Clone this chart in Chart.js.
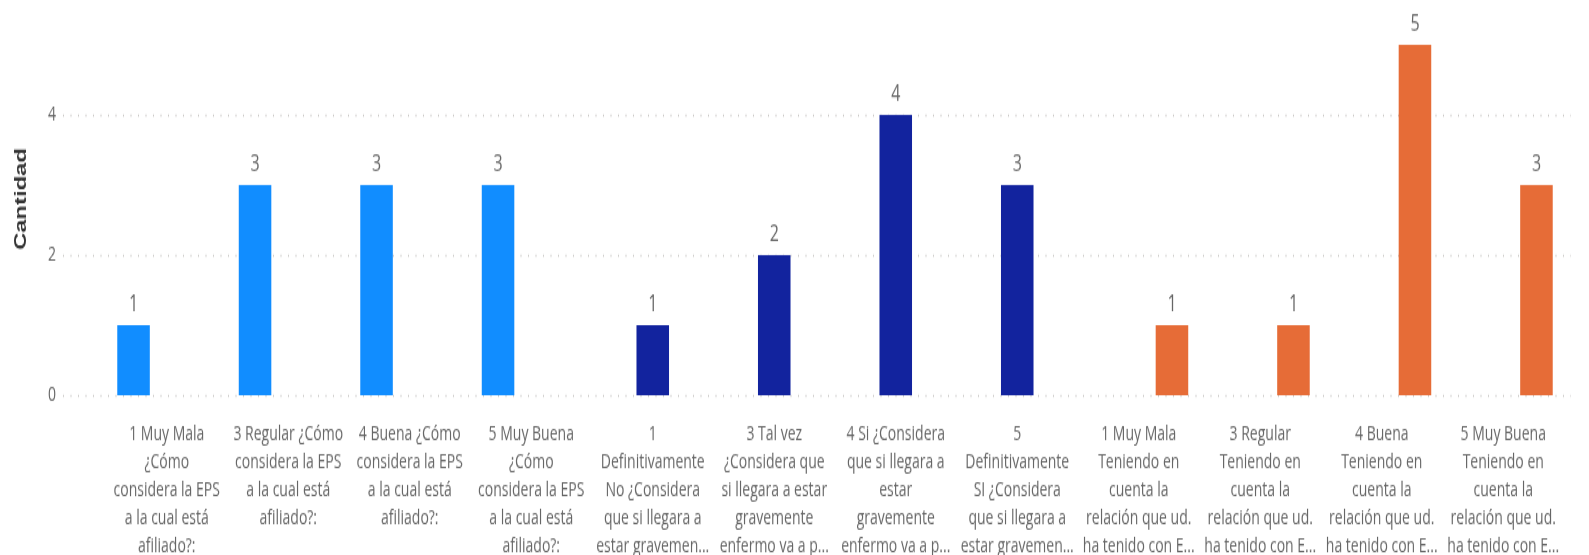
<!DOCTYPE html>
<html lang="es">
<head>
    <meta charset="UTF-8">
    <title>Cantidad por respuesta</title>
    <script src="https://cdn.jsdelivr.net/npm/chart.js"></script>
    <style>
        html, body {
            margin: 0;
            background: #ffffff;
        }

        /* Marco con la altura completa de la página */
        #marco {
            width: 1589px;
            height: 555px;
            overflow: hidden;
        }

        /* La captura original está estirada en vertical: se dibuja más bajo y se estira */
        #grafico {
            display: block;
            transform: scaleY(1.4015);
            transform-origin: 0 0;
        }
    </style>
</head>
<body>
    <div id="marco">
        <canvas id="grafico" width="1589" height="396"></canvas>
    </div>

    <script>
        // Etiquetas del eje X (tal como se ven, cortadas en líneas)
        const categorias = [
            ["1 Muy Mala", "¿Cómo", "considera la EPS", "a la cual está", "afiliado?:"],
            ["3 Regular ¿Cómo", "considera la EPS", "a la cual está", "afiliado?:"],
            ["4 Buena ¿Cómo", "considera la EPS", "a la cual está", "afiliado?:"],
            ["5 Muy Buena", "¿Cómo", "considera la EPS", "a la cual está", "afiliado?:"],
            ["1", "Definitivamente", "No ¿Considera", "que si llegara a", "estar gravemen..."],
            ["3 Tal vez", "¿Considera que", "si llegara a estar", "gravemente", "enfermo va a p..."],
            ["4 Si ¿Considera", "que si llegara a", "estar", "gravemente", "enfermo va a p..."],
            ["5", "Definitivamente", "SI ¿Considera", "que si llegara a", "estar gravemen..."],
            ["1 Muy Mala", "Teniendo en", "cuenta la", "relación que ud.", "ha tenido con E..."],
            ["3 Regular", "Teniendo en", "cuenta la", "relación que ud.", "ha tenido con E..."],
            ["4 Buena", "Teniendo en", "cuenta la", "relación que ud.", "ha tenido con E..."],
            ["5 Muy Buena", "Teniendo en", "cuenta la", "relación que ud.", "ha tenido con E..."]
        ];

        // Valores de cada pregunta (null = la pregunta no tiene esa categoría)
        const valoresEPS        = [1, 3, 3, 3, null, null, null, null, null, null, null, null];
        const valoresGravemente = [null, null, null, null, 1, 2, 4, 3, null, null, null, null];
        const valoresRelacion   = [null, null, null, null, null, null, null, null, 1, 1, 5, 3];

        // Marcas del eje Y
        const marcasY = [0, 2, 4];

        const colores = ["#118DFF", "#12239E", "#E66C37"];

        Chart.defaults.font.family = "'Open Sans', sans-serif";
        Chart.defaults.color = "#666666";

        // Líneas punteadas de la cuadrícula (más anchas que el área de barras, como en Power BI)
        const cuadricula = {
            id: "cuadricula",
            beforeDatasetsDraw(chart) {
                const ctx = chart.ctx;
                const ejeY = chart.scales.y;
                const area = chart.chartArea;
                ctx.save();
                ctx.strokeStyle = "#c8c6c4";
                ctx.lineWidth = 1.4;
                ctx.setLineDash([1, 6.5]);
                ejeY.ticks.forEach(t => {
                    const py = Math.round(ejeY.getPixelForValue(t.value)) + 0.5;
                    ctx.beginPath();
                    ctx.moveTo(area.left - 43, py);
                    ctx.lineTo(area.right + 7, py);
                    ctx.stroke();
                });
                ctx.restore();
            }
        };

        // Etiqueta con el valor encima de cada barra
        const etiquetasValor = {
            id: "etiquetasValor",
            afterDatasetsDraw(chart) {
                const ctx = chart.ctx;
                ctx.save();
                ctx.font = "16px 'Open Sans'";
                ctx.fillStyle = "#666666";
                ctx.textAlign = "center";
                ctx.textBaseline = "alphabetic";
                chart.data.datasets.forEach((ds, i) => {
                    chart.getDatasetMeta(i).data.forEach((barra, j) => {
                        if (ds.data[j] === null) return;
                        ctx.fillText(ds.data[j], barra.x, barra.y - 10);
                    });
                });
                ctx.restore();
            }
        };

        const serie = (nombre, datos, color) => ({
            label: nombre,
            data: datos,
            backgroundColor: color,
            borderWidth: 0,
            categoryPercentage: 0.82,
            barPercentage: 0.98
        });

        new Chart(document.getElementById("grafico"), {
            type: "bar",
            data: {
                labels: categorias,
                datasets: [
                    serie("¿Cómo considera la EPS a la cual está afiliado?", valoresEPS, colores[0]),
                    serie("¿Considera que si llegara a estar gravemente enfermo...?", valoresGravemente, colores[1]),
                    serie("Teniendo en cuenta la relación que ud. ha tenido con EPS...", valoresRelacion, colores[2])
                ]
            },
            options: {
                responsive: false,
                animation: false,
                layout: { padding: { top: 2, right: 25, bottom: 0, left: 0 } },
                plugins: {
                    legend: { display: false },
                    tooltip: { enabled: false }
                },
                scales: {
                    x: {
                        grid: { display: false, drawTicks: false },
                        border: { display: false },
                        ticks: {
                            autoSkip: false,
                            maxRotation: 0,
                            padding: 18,
                            color: "#666666",
                            font: { size: 14, lineHeight: 1.43 }
                        },
                        afterFit(escala) { escala.height = 114; }
                    },
                    y: {
                        min: 0,
                        max: 5.6,
                        grid: { display: false, drawTicks: false },
                        border: { display: false },
                        ticks: {
                            stepSize: 2,
                            padding: 50,
                            color: "#666666",
                            font: { size: 14 }
                        },
                        afterBuildTicks(escala) {
                            escala.ticks = marcasY.map(v => ({ value: v }));
                        },
                        afterFit(escala) {
                            // ancho fijo del eje y sin el relleno vertical que añade ticks.padding
                            escala.width = 106;
                            escala.paddingTop = 0;
                            escala.paddingBottom = 0;
                        },
                        title: {
                            display: true,
                            text: "Cantidad",
                            color: "#333333",
                            padding: { top: 11, bottom: 0 },
                            font: { family: "'Liberation Sans', Arial, sans-serif", size: 17, weight: "bold" }
                        }
                    }
                }
            },
            plugins: [cuadricula, etiquetasValor]
        });
    </script>
</body>
</html>
